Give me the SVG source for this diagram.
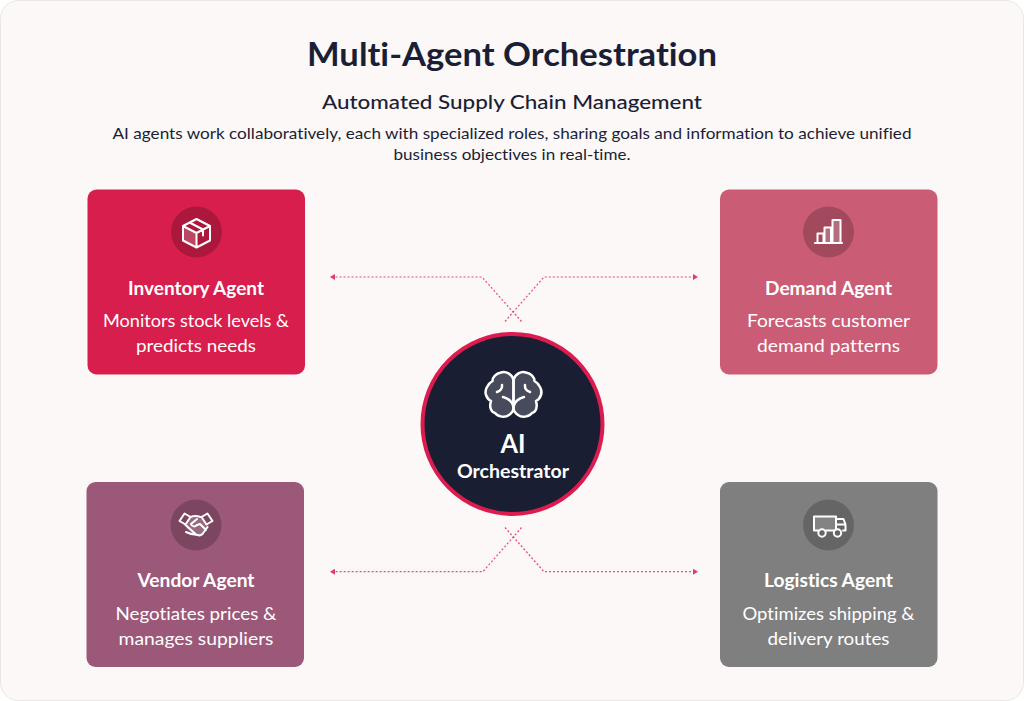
<svg xmlns="http://www.w3.org/2000/svg" width="1024" height="701" viewBox="0 0 1024 701">
<style>
text{font-family:"Lato","Open Sans","Liberation Sans",sans-serif;text-anchor:middle;font-variant-ligatures:none}
.t{fill:#1a1f36;}
.title{font-size:32px;font-weight:700}
.sub{font-size:20px;font-weight:500}
.desc{font-size:16px}
.name{fill:#fff;font-size:18px;font-weight:700}
.role{fill:#fff;font-size:18px}
.ic{fill:none;stroke:#fff;stroke-width:2;stroke-linejoin:round;stroke-linecap:round}
.fl{fill:#fff;fill-opacity:.2;stroke:none}
.halo{fill:#000;fill-opacity:.2}
.c{fill:none;stroke:#ea2c5e;stroke-width:1.200;stroke-dasharray:2 2;opacity:.85}
</style>
<defs>
<marker id="a" markerWidth="6" markerHeight="6" refX="4" refY="3" orient="auto-start-reverse" markerUnits="userSpaceOnUse"><path d="M0 0L5 3L0 6Z" fill="#dc1c4e"/></marker>
<g id="lobe">
<path class="fl" d="M513.500 380C512 374 506 371 501 372.500C496 373.500 492.500 377 492.500 381C487 384 484.500 391 486 395C487 398 489 400 491 401C489 407 491 412 495 413C498 417 505 418 509 415C512 413 513.500 411 513.500 408Z"/>
<path class="ic" style="stroke-width:2.500" d="M513.500 380C512 374 506 371 501 372.500C496 373.500 492.500 377 492.500 381C487 384 484.500 391 486 395C487 398 489 400 491 401C489 407 491 412 495 413C498 417 505 418 509 415C512 413 513.500 411 513.500 408V380M502 385C502.500 389 500 391 497 392M513.500 407C513 402 508 398 503 397"/>
</g>
</defs>
<rect x="0.500" y="0.500" width="1023" height="700" rx="18" fill="#fcf8f7" stroke="#e9e7e6"/>
<text class="t title" x="512" y="66" textLength="410" lengthAdjust="spacingAndGlyphs">Multi-Agent Orchestration</text>
<text class="t sub" x="512" y="109" textLength="380" lengthAdjust="spacingAndGlyphs">Automated Supply Chain Management</text>
<text class="t desc" x="512" y="139" textLength="799" lengthAdjust="spacingAndGlyphs">AI agents work collaboratively, each with specialized roles, sharing goals and information to achieve unified</text>
<text class="t desc" x="512" y="160" textLength="237" lengthAdjust="spacingAndGlyphs">business objectives in real-time.</text>
<g id="connectors">
<path class="c" marker-end="url(#a)" d="M521.500 321.500L482 277H331"/>
<path class="c" marker-end="url(#a)" d="M505 321.500L544 277H697"/>
<path class="c" marker-end="url(#a)" d="M521.500 527.500L483 571.700H331"/>
<path class="c" marker-end="url(#a)" d="M505 527.500L544 571.700H697"/>
</g>
<g id="inventory">
<rect x="87.500" y="189.500" width="217.500" height="185" rx="9" fill="#d81e4c"/>
<circle class="halo" cx="196.500" cy="232" r="25.500"/>
<path class="fl" d="M183 226l13 7v14l-13-7z"/>
<path class="ic" d="M196.500 219l13.500 7v14.500l-13.500 7-13.500-7V226zM183 226l13.500 7 13.500-7M196.500 233v14.500M189.500 222.500l13.500 7v6"/>
<text class="name" x="196" y="295" textLength="136" lengthAdjust="spacingAndGlyphs">Inventory Agent</text>
<text class="role" x="196" y="327" textLength="186" lengthAdjust="spacingAndGlyphs">Monitors stock levels &amp;</text>
<text class="role" x="196" y="352" textLength="120" lengthAdjust="spacingAndGlyphs">predicts needs</text>
</g>
<g id="demand">
<rect x="720" y="189.500" width="217.500" height="185" rx="9" fill="#cb5c76"/>
<circle class="halo" cx="828.500" cy="232" r="25.500"/>
<path class="fl" d="M832.500 220h8v23h-8zM824.500 227.500h6.500V243h-6.500z"/>
<path class="ic" d="M815 243h27M817.500 243v-9.500h6V243M824.500 243v-15.500h6.500V243M832.500 243v-23h8V243"/>
<text class="name" x="828.500" y="295" textLength="127" lengthAdjust="spacingAndGlyphs">Demand Agent</text>
<text class="role" x="828.500" y="327" textLength="163" lengthAdjust="spacingAndGlyphs">Forecasts customer</text>
<text class="role" x="828.500" y="352" textLength="143" lengthAdjust="spacingAndGlyphs">demand patterns</text>
</g>
<g id="vendor">
<rect x="86.500" y="482" width="217.500" height="185" rx="9" fill="#9c5879"/>
<circle class="halo" cx="196" cy="525" r="25.500"/>
<path class="fl" d="M189 518l7-1 7 2 6 8-7 7-8 1-8-7z"/>
<path class="ic" d="M179.500 521l5-7.500 6 3.500-5 7.500zM212.500 521l-5-7.500-6 3.500 5 7.500zM190.500 517c5-2 7-1 10 0M184.500 524l11 10c3 2 5 2 7 0l5-7M197 519l-6 5c1 3 4 3 6 1l3-1 6 6M186 532c4 2 8 3 12 3"/>
<text class="name" x="196" y="587" textLength="117" lengthAdjust="spacingAndGlyphs">Vendor Agent</text>
<text class="role" x="196" y="620" textLength="161" lengthAdjust="spacingAndGlyphs">Negotiates prices &amp;</text>
<text class="role" x="196" y="645" textLength="155" lengthAdjust="spacingAndGlyphs">manages suppliers</text>
</g>
<g id="logistics">
<rect x="720" y="482" width="217.500" height="185" rx="9" fill="#7f7f7f"/>
<circle class="halo" cx="828.500" cy="525" r="25.500"/>
<path class="fl" d="M814 516.500h22v14h-22z"/>
<path class="ic" d="M818 530.500h-4V516.500h22v14h-10M836 519h7.500l2 5.500v6h-2.500M836 530.500h-3M836 524.500h9"/>
<circle class="ic" style="fill:#666" cx="822" cy="533" r="3.700"/>
<circle class="ic" style="fill:#666" cx="837.500" cy="533" r="3.700"/>
<text class="name" x="828.500" y="587" textLength="129" lengthAdjust="spacingAndGlyphs">Logistics Agent</text>
<text class="role" x="828.500" y="620" textLength="172" lengthAdjust="spacingAndGlyphs">Optimizes shipping &amp;</text>
<text class="role" x="828.500" y="645" textLength="122" lengthAdjust="spacingAndGlyphs">delivery routes</text>
</g>
<g id="orchestrator">
<circle cx="512.500" cy="424" r="90" fill="#1a1e33" stroke="#dc1c4e" stroke-width="4"/>
<use href="#lobe"/>
<use href="#lobe" transform="matrix(-1 0 0 1 1027 0)"/>
<text x="513" y="453" fill="#fff" font-size="26" font-weight="700" textLength="25" lengthAdjust="spacingAndGlyphs">AI</text>
<text x="513" y="477.500" fill="#fff" font-size="18" font-weight="700" textLength="112" lengthAdjust="spacingAndGlyphs">Orchestrator</text>
</g>
</svg>
